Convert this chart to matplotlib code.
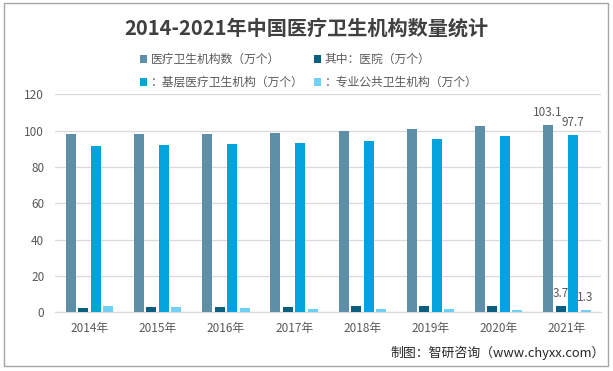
import numpy as np
import matplotlib
matplotlib.use('Agg')
import matplotlib.pyplot as plt
from matplotlib.patches import Rectangle

plt.rcParams['font.family'] = ['Noto Sans CJK SC', 'DejaVu Sans']

years = ['2014年', '2015年', '2016年', '2017年', '2018年', '2019年', '2020年', '2021年']
series_names = ['医疗卫生机构数（万个）', '其中：医院（万个）',
                '：基层医疗卫生机构（万个）', '：专业公共卫生机构（万个）']
total = [98.1, 98.4, 98.3, 98.7, 99.7, 100.8, 102.3, 103.1]
hospital = [2.6, 2.8, 2.9, 3.1, 3.3, 3.4, 3.5, 3.7]
basic = [91.7, 92.1, 92.6, 93.3, 94.4, 95.4, 97.0, 97.7]
special = [3.5, 3.1, 2.5, 2.0, 1.8, 1.6, 1.4, 1.3]

colors = ['#5d90a8', '#0a5e80', '#02a4db', '#6fcff4']
GRAY = '#595959'

fig = plt.figure(figsize=(6.13, 3.71), dpi=100)
ax = fig.add_axes([0.0904, 0.1582, 0.890, 0.5876])

x = np.arange(len(years))
slot = 0.183
width = 0.147
bars = []
for i, (vals, c) in enumerate(zip([total, hospital, basic, special], colors)):
    b = ax.bar(x + (i - 1.5) * slot, vals, width, color=c, label=series_names[i], zorder=3)
    bars.append(b)
    # only the last year gets a value label
    ax.annotate(f'{vals[-1]:.1f}', (x[-1] + (i - 1.5) * slot, vals[-1]),
                xytext=(0, 4), textcoords='offset points', ha='center', va='bottom',
                fontsize=8.5, color=GRAY)

ax.set_ylim(0, 120)
ax.set_xlim(-0.5, len(years) - 0.5)
ax.set_yticks(range(0, 121, 20))
ax.set_xticks(x)
ax.set_xticklabels(years)
ax.grid(axis='y', color='#d9d9d9', linewidth=0.9, zorder=0)
for s in ['top', 'right', 'left']:
    ax.spines[s].set_visible(False)
ax.spines['bottom'].set_color('#d9d9d9')
ax.spines['bottom'].set_linewidth(0.9)
ax.tick_params(length=0, labelsize=8.5, labelcolor=GRAY)
ax.tick_params(axis='y', pad=8)
ax.tick_params(axis='x', pad=7)

fig.text(0.5, 1 - 28 / 371, '2014-2021年中国医疗卫生机构数量统计', ha='center', va='center',
         fontsize=14.5, fontweight='bold', color='#404040')

# legend: handles ordered so rows read left to right
order = [0, 2, 1, 3]
leg = fig.legend([bars[k] for k in order], [series_names[k] for k in order],
                 ncol=2, loc='upper left', bbox_to_anchor=(140 / 613, 1 - 53 / 371),
                 frameon=False, fontsize=8.5, handlelength=0.6, handleheight=0.6,
                 handletextpad=0.3, columnspacing=0.9, labelspacing=0.85,
                 borderpad=0, borderaxespad=0)
for t in leg.get_texts():
    t.set_color(GRAY)

fig.text(605 / 613, 1 - 353 / 371, '制图：智研咨询（www.chyxx.com）', ha='right', va='center',
         fontsize=9.3, color='#262626')

fig.patches.append(Rectangle((4 / 613, 5 / 371), 604 / 613, 363 / 371, transform=fig.transFigure,
                             fill=False, edgecolor='#a6a6a6', linewidth=1))

fig.savefig('out.png', dpi=100)
